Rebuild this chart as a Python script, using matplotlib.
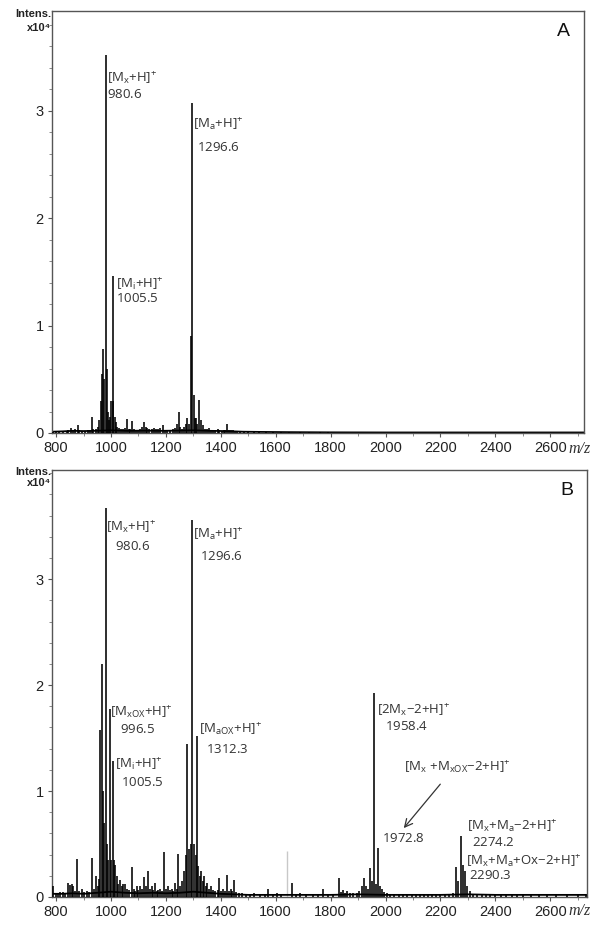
import matplotlib
matplotlib.use('Agg')
import matplotlib.pyplot as plt
from matplotlib.ticker import MultipleLocator

plt.rcParams['mathtext.fontset'] = 'custom'
plt.rcParams['mathtext.rm'] = 'Open Sans'
plt.rcParams['mathtext.it'] = 'Open Sans:italic'
plt.rcParams['mathtext.bf'] = 'Open Sans:bold'
plt.rcParams['font.family'] = ['Liberation Sans', 'DejaVu Sans']

# ---------------- data (intensity in units of 1e4) ----------------
A_peaks = [(790,0.01),(800,0.01),(812,0.02),(825,0.015),(838,0.02),(845,0.03),(853,0.045),(860,0.03),
           (868,0.04),(879,0.075),(885,0.03),(895,0.02),(905,0.02),(915,0.03),(922,0.03),(929,0.15),
           (935,0.04),(945,0.04),(952,0.06),(958,0.12),(962,0.3),(966,0.55),(970,0.78),(975,0.5),
           (980.6,3.52),(984,0.6),(988,0.2),(992,0.12),(996,0.15),(1000,0.3),(1005.5,1.46),(1009,0.3),
           (1013,0.15),(1018,0.1),(1022,0.06),(1028,0.05),(1035,0.04),(1042,0.04),(1050,0.05),(1058,0.13),
           (1065,0.04),(1070,0.04),(1076,0.11),(1083,0.04),(1090,0.03),(1098,0.03),(1106,0.04),(1113,0.06),
           (1120,0.1),(1126,0.06),(1132,0.05),(1140,0.04),(1148,0.04),(1156,0.05),(1164,0.04),(1172,0.04),
           (1180,0.05),(1191,0.075),(1198,0.03),(1205,0.03),(1215,0.03),(1225,0.04),(1232,0.05),(1240,0.08),
           (1247,0.2),(1252,0.06),(1258,0.04),(1265,0.06),(1272,0.08),(1278,0.14),(1285,0.08),(1291,0.9),
           (1296.6,3.07),(1302,0.35),(1306,0.14),(1310,0.14),(1314,0.08),(1320,0.31),(1327,0.12),(1336,0.075),
           (1342,0.04),(1350,0.04),(1357,0.045),(1365,0.03),(1372,0.03),(1380,0.03),(1388,0.035),(1395,0.03),
           (1403,0.02),(1410,0.025),(1417,0.03),(1424,0.08),(1430,0.03),(1437,0.025),(1445,0.03),(1452,0.02),
           (1460,0.015),(1470,0.015),(1485,0.012),(1500,0.012),(1520,0.01),(1540,0.01),(1565,0.01),(1590,0.01),
           (1620,0.012),(1650,0.01),(1690,0.008),(1720,0.01),(1760,0.012),(1790,0.008)]
A_baseline = [(785,0.012),(820,0.015),(860,0.02),(900,0.018),(940,0.02),(1000,0.025),(1060,0.02),
              (1120,0.022),(1180,0.02),(1240,0.022),(1300,0.025),(1360,0.02),(1420,0.018),(1480,0.012),
              (1550,0.01),(1650,0.008),(1800,0.006),(2000,0.005),(2300,0.005),(2600,0.005),(2723,0.005)]

B_peaks = [(790,0.1),(800,0.04),(808,0.04),(815,0.05),(826,0.05),(833,0.04),(843,0.13),(850,0.11),(857,0.12),
           (862,0.1),(868,0.06),(877,0.36),(884,0.06),(893,0.08),(900,0.05),(911,0.06),(918,0.05),(930,0.37),
           (938,0.08),(945,0.2),(951,0.1),(957,0.17),(960,1.58),(966,2.2),(970,1.0),(975,0.7),(980.6,3.67),
           (986,0.5),(990,0.35),(996.5,1.77),(1000,0.35),(1005.5,1.28),(1010,0.35),(1015,0.3),(1020,0.2),
           (1026,0.12),(1033,0.16),(1040,0.1),(1045,0.12),(1051,0.12),(1058,0.08),(1064,0.07),(1075,0.28),
           (1082,0.08),(1088,0.06),(1094,0.1),(1100,0.07),(1106,0.1),(1113,0.08),(1121,0.19),(1127,0.1),
           (1134,0.25),(1141,0.08),(1148,0.1),(1154,0.07),(1160,0.13),(1167,0.06),(1172,0.07),(1178,0.08),
           (1186,0.06),(1194,0.42),(1200,0.08),(1209,0.1),(1215,0.07),(1221,0.08),(1227,0.06),(1233,0.13),
           (1239,0.08),(1245,0.41),(1251,0.1),(1258,0.15),(1266,0.25),(1272,0.4),(1278,1.44),(1285,0.45),
           (1290,0.5),(1296.6,3.56),(1302,0.5),(1308,0.4),(1312.3,1.52),(1318,0.29),(1323,0.2),(1328,0.25),
           (1334,0.15),(1339,0.2),(1345,0.1),(1351,0.13),(1357,0.08),(1363,0.1),(1372,0.07),(1380,0.06),
           (1388,0.07),(1395,0.18),(1401,0.06),(1407,0.08),(1414,0.06),(1424,0.21),(1430,0.06),(1436,0.08),
           (1442,0.06),(1449,0.16),(1456,0.05),(1465,0.04),(1476,0.04),(1490,0.03),(1506,0.03),(1520,0.035),
           (1543,0.03),(1560,0.03),(1573,0.08),(1590,0.03),(1604,0.04),(1620,0.03),(1660,0.13),(1675,0.03),
           (1689,0.04),(1710,0.03),(1737,0.03),(1755,0.03),(1773,0.08),(1790,0.03),(1810,0.03),(1831,0.18),
           (1838,0.05),(1846,0.07),(1852,0.04),(1859,0.06),(1870,0.04),(1883,0.04),(1895,0.04),(1905,0.06),
           (1913,0.1),(1922,0.18),(1929,0.1),(1936,0.08),(1944,0.27),(1950,0.15),(1958.4,1.93),(1965,0.12),
           (1972.8,0.46),(1980,0.1),(1988,0.08),(1996,0.05),(2004,0.04),(2015,0.03),(2030,0.03),(2050,0.03),
           (2065,0.025),(2080,0.025),(2095,0.03),(2110,0.03),(2125,0.025),(2140,0.025),(2155,0.03),(2170,0.03),
           (2185,0.025),(2200,0.02),(2215,0.03),(2230,0.03),(2245,0.04),(2258,0.28),(2265,0.15),(2274.2,0.575),
           (2282,0.3),(2290.3,0.25),(2298,0.1),(2306,0.06),(2320,0.03),(2335,0.03),(2350,0.03),(2365,0.025),
           (2380,0.02),(2400,0.025),(2420,0.025),(2440,0.02),(2460,0.02),(2480,0.025),(2500,0.02),(2530,0.02),
           (2560,0.025),(2590,0.03),(2620,0.02),(2660,0.02),(2700,0.02),(2730,0.02)]
B_grey_peaks = [(1640, 0.43)]
B_baseline = [(785,0.03),(820,0.03),(860,0.035),(900,0.03),(950,0.04),(1000,0.05),(1050,0.04),(1100,0.035),
              (1150,0.04),(1200,0.035),(1250,0.04),(1300,0.05),(1350,0.04),(1400,0.03),(1450,0.025),
              (1500,0.02),(1600,0.02),(1700,0.02),(1800,0.02),(1900,0.025),(2000,0.02),(2100,0.02),
              (2200,0.02),(2300,0.025),(2400,0.02),(2500,0.02),(2600,0.02),(2740,0.02)]

# labels: (text, mz, intensity) -- anchored at left / vertical centre
A_labels = [(r'$\mathrm{[M_x{+}H]^{+}}$', 985, 3.30), (r'$\mathrm{980.6}$', 985, 3.15),
            (r'$\mathrm{[M_a{+}H]^{+}}$', 1299, 2.87), (r'$\mathrm{1296.6}$', 1313, 2.66),
            (r'$\mathrm{[M_i{+}H]^{+}}$', 1018, 1.38), (r'$\mathrm{1005.5}$', 1018, 1.25)]
B_labels = [(r'$\mathrm{[M_x{+}H]^{+}}$', 982, 3.48), (r'$\mathrm{980.6}$', 1015, 3.31),
            (r'$\mathrm{[M_a{+}H]^{+}}$', 1299, 3.42), (r'$\mathrm{1296.6}$', 1324, 3.21),
            (r'$\mathrm{[M_{xOX}{+}H]^{+}}$', 996, 1.74), (r'$\mathrm{996.5}$', 1033, 1.58),
            (r'$\mathrm{[M_i{+}H]^{+}}$', 1015, 1.25), (r'$\mathrm{1005.5}$', 1036, 1.08),
            (r'$\mathrm{[M_{aOX}{+}H]^{+}}$', 1321, 1.58), (r'$\mathrm{1312.3}$', 1346, 1.39),
            (r'$\mathrm{[2M_x{-}2{+}H]^{+}}$', 1969, 1.76), (r'$\mathrm{1958.4}$', 1998, 1.61),
            (r'$\mathrm{[M_x\ {+}M_{xOX}{-}2{+}H]^{+}}$', 2067, 1.22),
            (r'$\mathrm{1972.8}$', 1987, 0.55),
            (r'$\mathrm{[M_x{+}M_a{-}2{+}H]^{+}}$', 2297, 0.66), (r'$\mathrm{2274.2}$', 2315, 0.51),
            (r'$\mathrm{[M_x{+}M_a{+}Ox{-}2{+}H]^{+}}$', 2293, 0.33), (r'$\mathrm{2290.3}$', 2304, 0.20)]
B_arrow = {'tail': (2206, 1.085), 'head': (2060, 0.63)}

x_ticks = [800, 1000, 1200, 1400, 1600, 1800, 2000, 2200, 2400, 2600]
y_ticks = [0, 1, 2, 3]

# ---------------- figure ----------------
W, H = 601, 925
fig = plt.figure(figsize=(W / 100, H / 100), dpi=100)


def px_axes(l, t, r, b):
    return fig.add_axes([l / W, 1 - b / H, (r - l) / W, (b - t) / H])


def draw(ax, peaks, baseline, xlim, ylim, labels, letter, grey=None):
    mz = [p[0] for p in peaks]
    it = [p[1] for p in peaks]
    bx = [p[0] for p in baseline]
    by = [p[1] for p in baseline]
    ax.plot(bx, by, color='black', lw=1.3, zorder=2)
    ax.vlines(mz, 0, it, color='black', lw=1.15, zorder=3)
    if grey:
        ax.vlines([g[0] for g in grey], 0, [g[1] for g in grey], color='#c8c8c8', lw=1.0, zorder=1)
    ax.set_xlim(*xlim)
    ax.set_ylim(*ylim)
    ax.set_xticks(x_ticks)
    ax.set_yticks(y_ticks)
    ax.xaxis.set_minor_locator(MultipleLocator(100))
    ax.yaxis.set_minor_locator(MultipleLocator(0.2))
    ax.tick_params(which='major', direction='out', length=3, width=0.8, color='#555555',
                   labelsize=10.5, pad=3, labelcolor='#222222')
    ax.tick_params(which='minor', direction='out', length=2, width=0.6, color='#777777')
    for s in ax.spines.values():
        s.set_color('#555555')
        s.set_linewidth(1.0)
    for txt, x, y in labels:
        ax.text(x, y, txt, ha='left', va='center', fontsize=9.5, color='#333333')
    ax.text(0.962, 0.952, letter, transform=ax.transAxes, ha='center', va='center',
            fontsize=14, color='#111111')


axA = px_axes(52, 11, 584, 433)
draw(axA, A_peaks, A_baseline, (785, 2723), (0, 3.93), A_labels, 'A')

axB = px_axes(52, 470, 587, 897)
draw(axB, B_peaks, B_baseline, (785, 2734), (0, 4.03), B_labels, 'B', grey=B_grey_peaks)
axB.annotate('', xy=B_arrow['head'], xytext=B_arrow['tail'],
             arrowprops=dict(arrowstyle='->', color='#333333', lw=0.9,
                             mutation_scale=14))

for ytop, ysub in [(14, 28), (472, 483)]:
    fig.text(51 / W, 1 - ytop / H, 'Intens.', ha='right', va='center',
             fontsize=8, fontweight='bold', color='#222222')
    fig.text(51 / W, 1 - ysub / H, 'x10\u2074', ha='right', va='center',
             fontsize=8, fontweight='bold', color='#222222')

for ypx in (449, 911):
    fig.text(580 / W, 1 - ypx / H, 'm/z', ha='center', va='center', fontsize=11.5,
             style='italic', family=['Liberation Serif', 'DejaVu Serif'], color='#333333')

fig.savefig('out.png', dpi=100, facecolor='white')
